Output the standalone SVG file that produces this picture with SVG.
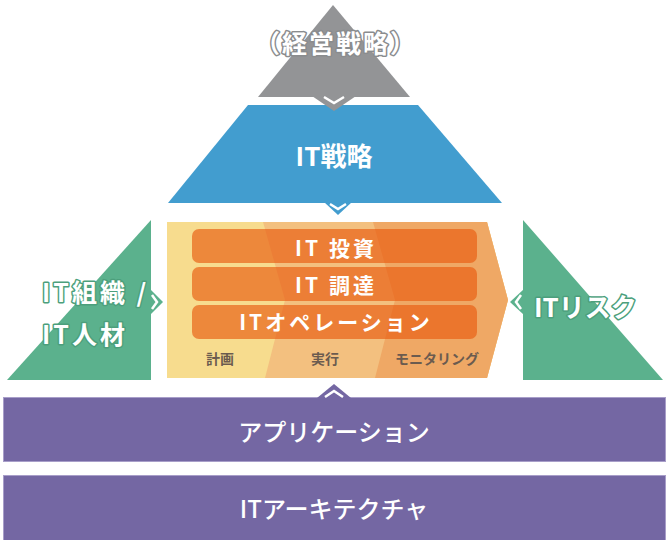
<svg xmlns="http://www.w3.org/2000/svg" width="668" height="540" viewBox="0 0 668 540">
  <style>
    .jp { font-family: "Noto Sans CJK JP", "Noto Sans", sans-serif; }
    .w { fill: #ffffff; }
    .halo-g { stroke: #8a8c8e; stroke-width: 3; paint-order: stroke; stroke-linejoin: round; }
    .halo-gr { stroke: #4c9f7c; stroke-width: 3; paint-order: stroke; stroke-linejoin: round; }
    .bar { fill: #e85a10; fill-opacity: 0.65; }
    .bartxt { font-size: 21px; font-weight: 700; letter-spacing: 3px; }
    .phase { font-size: 14px; font-weight: 700; fill: #6b5b4f; }
    .purple { fill: #7467a3; stroke: #a89ec9; stroke-width: 1; }
    .vline { fill: none; stroke: #ffffff; stroke-width: 2.5; stroke-linejoin: miter; }
  </style>

  <g id="keiei-senryaku">
    <polygon points="333,5 410,97 258,97" fill="#939496"/>
    <text class="jp w halo-g" x="336" y="53" font-size="25" font-weight="700" text-anchor="middle" letter-spacing="2">（経営戦略）</text>
  </g>

  <g id="it-senryaku">
    <polygon points="248,105 418,105 502,203 168,203" fill="#429dcf"/>
    <text class="jp w" x="334" y="166" font-size="26" font-weight="700" text-anchor="middle">IT戦略</text>
  </g>

  <g id="it-soshiki">
    <polygon points="151,220 151,380 7,380" fill="#5bb18d"/>
    <text class="jp w halo-gr" font-size="25" font-weight="700" letter-spacing="3">
      <tspan x="42" y="302">IT組織 /</tspan>
      <tspan x="42" y="344">IT人材</tspan>
    </text>
  </g>

  <g id="it-risk">
    <polygon points="523,220 523,380 663,380" fill="#5bb18d"/>
    <text class="jp w halo-gr" x="534" y="317" font-size="26" font-weight="700">ITリスク</text>
  </g>

  <g id="process-panel">
    <polygon points="167,222 487,222 508,300 487,378 167,378" fill="#f7dc8e"/>
    <polygon points="263,222 487,222 508,300 487,378 265,378 285,300" fill="#f3c07f"/>
    <polygon points="373,222 487,222 508,300 487,378 375,378 395,300" fill="#efa865"/>
    <text class="jp phase" x="220" y="364" text-anchor="middle">計画</text>
    <text class="jp phase" x="325" y="364" text-anchor="middle">実行</text>
    <text class="jp phase" x="437" y="364" font-size="13" text-anchor="middle">モニタリング</text>
  </g>

  <g id="it-toushi">
    <rect class="bar" x="192" y="229" width="285" height="34" rx="7"/>
    <text class="jp w bartxt" x="336" y="256" text-anchor="middle">IT 投資</text>
  </g>

  <g id="it-choutatsu">
    <rect class="bar" x="192" y="267" width="285" height="34" rx="7"/>
    <text class="jp w bartxt" x="336" y="293" text-anchor="middle">IT 調達</text>
  </g>

  <g id="it-operation">
    <rect class="bar" x="192" y="305" width="285" height="34" rx="7"/>
    <text class="jp w bartxt" x="336" y="330" text-anchor="middle">ITオペレーション</text>
  </g>

  <g id="application">
    <rect class="purple" x="3.5" y="397.5" width="662" height="64"/>
    <text class="jp w" x="334" y="441" font-size="24" font-weight="500" text-anchor="middle">アプリケーション</text>
  </g>

  <g id="it-architecture">
    <rect class="purple" x="3.5" y="475.5" width="662" height="66"/>
    <text class="jp w" x="334" y="518" font-size="24" font-weight="500" text-anchor="middle">ITアーキテクチャ</text>
  </g>

  <g id="connectors">
    <polygon points="312,96 356,96 334,111" fill="#939496"/>
    <polyline class="vline" points="324,97 334,103 344,97"/>
    <polygon points="324,202 352,202 338,215" fill="#429dcf"/>
    <polyline class="vline" points="330,204 338,209 346,204"/>
    <polygon points="150,289 163,302 150,315" fill="#5bb18d"/>
    <polyline class="vline" points="152,295 157,302 152,309"/>
    <polygon points="524,289 510,302 524,315" fill="#5bb18d"/>
    <polyline class="vline" points="521,295 516,302 521,309"/>
    <polygon points="317,398 334,384 351,398" fill="#7467a3"/>
    <polyline class="vline" points="325,397 334,391 343,397"/>
  </g>
</svg>
